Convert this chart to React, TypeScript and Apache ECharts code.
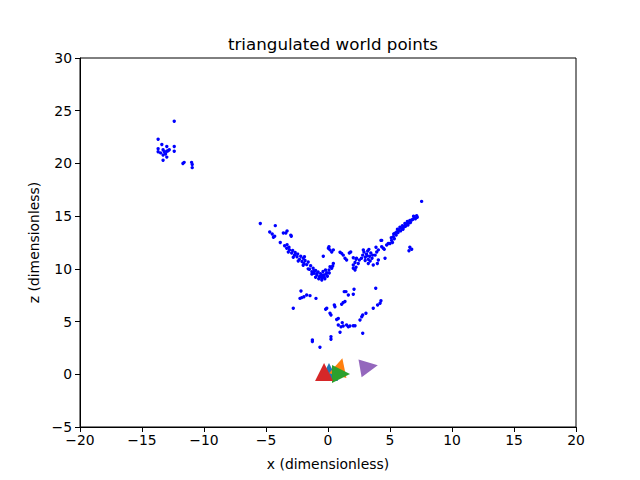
import React, { useEffect, useRef } from "react";
import * as echarts from "echarts";

const xTicks = [-20, -15, -10, -5, 0, 5, 10, 15, 20];
const zTicks = [-5, 0, 5, 10, 15, 20, 25, 30];

const topLeftCluster: number[][] = [
  [-12.4, 24.0], [-13.7, 22.3], [-13.4, 21.8], [-13.0, 21.6], [-12.4, 21.6], [-13.7, 21.4],
  [-13.3, 21.3], [-12.9, 21.2], [-13.7, 21.1], [-13.2, 21.1], [-13.0, 21.15], [-12.4, 21.15],
  [-13.3, 20.8], [-13.1, 20.9], [-13.0, 20.6], [-13.3, 20.3], [-11.6, 20.1], [-11.7, 20.0],
  [-11.0, 20.1], [-10.95, 19.9], [-10.95, 19.6], [-13.5, 21.0], [-12.8, 21.3],
];

const leftArm: number[][] = [
  [-5.46, 14.3], [-4.25, 14.1], [-4.7, 13.5], [-4.5, 13.3], [-4.4, 13.0], [-4.3, 13.1],
  [-3.6, 13.4], [-3.4, 13.4], [-3.3, 13.6], [-3.0, 13.2], [-2.96, 13.1], [-3.85, 12.5],
  [-3.5, 12.2], [-3.33, 11.95], [-3.1, 11.8], [-2.93, 11.5], [-2.7, 11.3], [-2.5, 11.15],
  [-2.3, 10.9], [-2.1, 10.7], [-1.94, 10.5], [-1.72, 10.4], [-1.5, 9.96], [-1.3, 9.73],
  [-1.13, 9.58], [-0.9, 9.42], [-0.7, 9.26], [-0.5, 9.1], [-0.32, 9.42], [-0.1, 9.64],
  [0.08, 9.9], [0.16, 10.2],
  [-3.3, 12.3], [-3.15, 12.05], [-2.85, 11.75], [-2.65, 11.55], [-2.45, 11.4], [-2.2, 11.2],
  [-2.0, 11.0], [-1.85, 10.8], [-1.6, 10.65], [-1.4, 10.3], [-1.2, 10.05], [-1.0, 9.85],
  [-0.8, 9.7], [-0.6, 9.55], [-0.4, 9.75], [-0.2, 9.9],
  [-3.2, 11.6], [-2.8, 11.1], [-2.4, 10.75], [-2.0, 10.35], [-1.6, 10.0], [-1.3, 9.5],
  [-1.0, 9.2], [-0.75, 9.05], [-0.5, 8.95], [-0.25, 9.05], [-0.05, 9.3], [0.1, 9.6],
  [-0.6, 9.3], [-0.45, 9.4], [-0.3, 9.2], [-0.15, 9.5], [-0.9, 9.55], [-1.1, 9.8],
  [-1.9, 11.15], [-0.38, 11.2],
];

const centerCluster: number[][] = [
  [0.03, 11.95], [0.16, 11.8], [0.43, 11.8], [0.3, 11.6], [0.08, 12.1], [0.97, 11.57],
  [1.1, 11.47], [1.23, 11.3], [1.37, 11.0], [1.5, 10.84], [1.72, 11.5], [1.83, 11.6],
  [2.04, 11.06], [2.26, 10.9], [2.3, 11.0], [2.18, 10.6], [2.04, 10.05], [2.18, 9.9],
  [2.44, 10.5], [2.53, 10.84], [2.04, 10.37], [2.26, 10.15], [0.43, 10.5], [0.38, 10.27],
  [0.3, 10.05],
  [2.7, 11.0], [2.8, 11.3], [2.9, 11.6], [3.0, 11.1], [3.1, 11.4], [3.2, 11.7], [3.25, 10.9],
  [3.35, 11.2], [3.45, 11.5], [3.55, 11.0], [3.6, 11.3], [3.0, 10.8], [3.4, 10.75],
  [2.85, 11.8], [3.3, 11.85], [3.15, 11.25],
  [3.25, 10.5], [3.8, 11.3], [3.93, 11.6], [4.06, 11.8], [4.33, 12.1], [4.46, 11.95],
  [4.73, 12.26], [4.86, 12.4], [4.27, 12.7], [4.06, 10.84], [4.6, 11.0], [3.87, 12.05],
  [3.98, 10.5], [3.65, 10.37], [4.54, 11.85],
];

const rightArm: number[][] = [
  [5.0, 12.4], [5.13, 12.7], [5.27, 13.05], [5.4, 13.37], [5.54, 13.5], [5.73, 13.7],
  [5.94, 13.85], [6.15, 14.0], [6.35, 14.26], [6.53, 14.38], [6.75, 14.64], [6.96, 14.9],
  [7.15, 15.05],
  [5.2, 12.5], [5.35, 12.85], [5.5, 13.2], [5.65, 13.45], [5.85, 13.6], [6.05, 13.75],
  [6.25, 14.05], [6.45, 14.15], [6.65, 14.4], [6.85, 14.7], [7.05, 14.75], [7.2, 14.9],
  [5.1, 12.95], [5.3, 13.3], [5.6, 13.75], [5.8, 13.95], [6.0, 14.1], [6.2, 14.3],
  [6.4, 14.5], [6.6, 14.6], [6.9, 15.0],
  [7.55, 16.4], [4.33, 12.7], [6.6, 12.05], [6.75, 11.86], [6.53, 11.72],
];

const lowerPoints: number[][] = [
  [-2.18, 7.9], [-2.26, 7.2], [-2.12, 7.27], [-1.94, 7.36], [-1.72, 7.52], [-1.45, 7.46],
  [-0.97, 7.2], [-2.8, 6.26], [1.31, 7.84], [1.45, 7.84], [2.1, 8.06], [1.64, 7.52],
  [2.04, 7.59], [1.1, 6.64], [1.23, 6.8], [1.37, 6.9], [0.51, 6.57], [0.56, 6.41],
  [-0.19, 6.17], [-0.1, 6.26], [0.16, 5.79], [0.24, 5.62], [0.7, 5.2], [0.83, 5.3],
  [1.15, 4.9], [0.83, 4.68], [1.05, 4.5], [1.23, 4.58], [1.5, 4.68], [1.64, 4.5],
  [1.77, 4.58], [2.04, 4.6], [2.18, 4.6], [0.97, 3.98], [2.58, 5.15], [2.72, 5.46],
  [2.8, 5.62], [3.06, 5.79], [2.8, 3.89], [3.65, 6.26], [4.0, 6.57], [4.2, 6.73],
  [4.27, 6.98], [3.85, 8.16], [-1.26, 3.25], [-1.26, 3.1], [0.24, 3.57], [0.24, 3.32],
  [-0.65, 2.56],
];

// cameras: [x, z]
const cameraPositions: number[][] = [
  [0.08, 0.22], [0.97, 0.7], [1.05, 0.03], [-0.32, 0.22], [3.3, 0.7],
];
const cameraRotations = [0, -15, -90, 0, -80];
const cameraColors = ["#1f77b4", "#ff7f0e", "#2ca02c", "#d62728", "#9467bd"];

const FONT = "DejaVu Sans";

export default function App() {
  const ref = useRef<HTMLDivElement>(null);
  useEffect(() => {
    if (!ref.current) return;
    const chart = echarts.init(ref.current, undefined, { renderer: "svg" });
    const worldPoints = [
      ...topLeftCluster,
      ...leftArm,
      ...centerCluster,
      ...rightArm,
      ...lowerPoints,
    ];
    const fmt = (v: number) => (v < 0 ? "\u2212" + Math.abs(v) : String(v));
    const axisCommon = {
      axisLine: { show: true, onZero: false, lineStyle: { color: "#000", width: 1 } },
      axisTick: { show: true, length: 5, lineStyle: { color: "#000" } },
      splitLine: { show: false },
      axisLabel: { color: "#000", fontFamily: FONT, fontSize: 13.9, formatter: fmt },
      nameTextStyle: { color: "#000", fontFamily: FONT, fontSize: 13.9 },
    };
    chart.setOption({
      animation: false,
      backgroundColor: "#fff",
      title: {
        text: "triangulated world points",
        left: 328,
        textAlign: "center",
        top: 30,
        textStyle: { fontFamily: FONT, fontSize: 16.7, fontWeight: "normal", color: "#000" },
      },
      grid: {
        left: 80, right: 64, top: 58, bottom: 53,
        show: true, borderColor: "#000", borderWidth: 1,
      },
      xAxis: {
        type: "value", min: xTicks[0], max: xTicks[xTicks.length - 1], interval: 5,
        name: "x (dimensionless)", nameLocation: "middle", nameGap: 30,
        ...axisCommon,
        axisLabel: { ...axisCommon.axisLabel, margin: 6 },
      },
      yAxis: {
        type: "value", min: zTicks[0], max: zTicks[zTicks.length - 1], interval: 5,
        name: "z (dimensionless)", nameLocation: "middle", nameGap: 37,
        ...axisCommon,
        axisLabel: { ...axisCommon.axisLabel, margin: 8 },
      },
      series: [
        {
          type: "scatter",
          data: worldPoints,
          symbol: "circle",
          symbolSize: 3.4,
          itemStyle: { color: "#0000ff", opacity: 1 },
          silent: true,
        },
        {
          type: "scatter",
          data: cameraPositions.map((p, i) => ({
            value: p,
            symbolRotate: cameraRotations[i],
            itemStyle: { color: cameraColors[i], opacity: 1 },
          })),
          symbol: "triangle",
          symbolSize: 18,
          silent: true,
        },
      ],
    });
    return () => chart.dispose();
  }, []);
  return <div ref={ref} style={{ width: 640, height: 480, position: "absolute", left: 0, top: 0 }} />;
}
